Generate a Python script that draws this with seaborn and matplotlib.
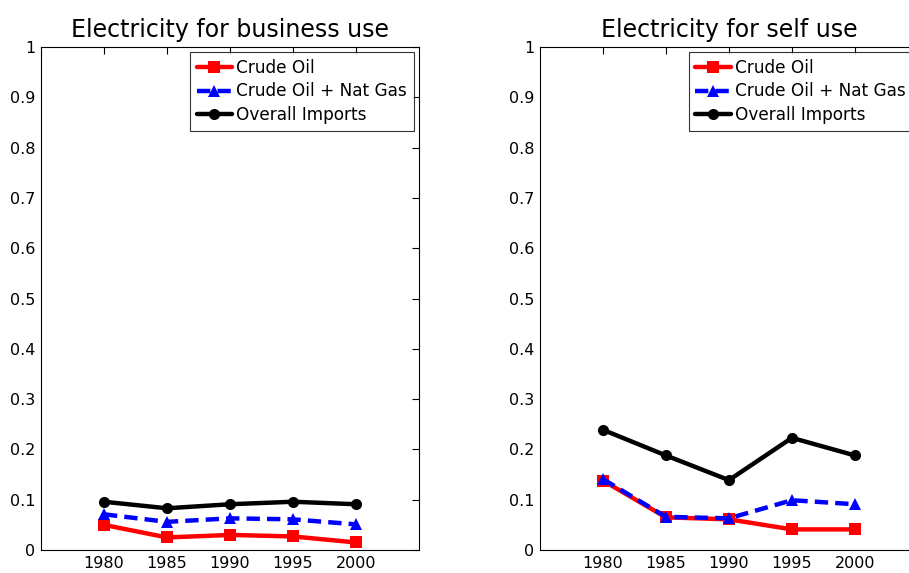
import pandas as pd
import matplotlib
matplotlib.use("Agg")
import matplotlib.pyplot as plt
import seaborn as sns

# values
years = [1980, 1985, 1990, 1995, 2000]
series_names = ['Crude Oil', 'Crude Oil + Nat Gas', 'Overall Imports']

business_crude = [0.050, 0.025, 0.030, 0.027, 0.015]
business_gas = [0.071, 0.056, 0.063, 0.061, 0.051]
business_overall = [0.096, 0.083, 0.091, 0.096, 0.091]

self_crude = [0.138, 0.065, 0.061, 0.041, 0.041]
self_gas = [0.141, 0.066, 0.063, 0.099, 0.091]
self_overall = [0.239, 0.188, 0.139, 0.223, 0.188]

panel_titles = ['Electricity for business use', 'Electricity for self use']


def make_frame(crude, gas, overall):
    rows = []
    for name, vals in zip(series_names, [crude, gas, overall]):
        for y, v in zip(years, vals):
            rows.append({'Year': y, 'Share': v, 'Series': name})
    return pd.DataFrame(rows)


frames = [make_frame(business_crude, business_gas, business_overall),
          make_frame(self_crude, self_gas, self_overall)]

sns.set_style('white')
plt.rcParams['font.family'] = ['DejaVu Sans']
plt.rcParams['text.color'] = 'black'

palette = {'Crude Oil': '#ff0000', 'Crude Oil + Nat Gas': '#0000ff', 'Overall Imports': '#000000'}
markers = {'Crude Oil': 's', 'Crude Oil + Nat Gas': '^', 'Overall Imports': 'o'}
dashes = {'Crude Oil': '', 'Crude Oil + Nat Gas': (3, 1.6), 'Overall Imports': ''}

fig = plt.figure(figsize=(9.09, 5.73), dpi=100)
ax_pos = [[0.0451, 0.0401, 0.4158, 0.8778], [0.594, 0.0401, 0.4158, 0.8778]]

for pos, df, title in zip(ax_pos, frames, panel_titles):
    ax = fig.add_axes(pos)
    sns.lineplot(data=df, x='Year', y='Share', hue='Series', style='Series',
                 hue_order=series_names, style_order=series_names,
                 palette=palette, markers=markers, dashes=dashes,
                 linewidth=3.2, markersize=8, markeredgewidth=0, ax=ax)
    ax.set_xlim(1975, 2005)
    ax.set_ylim(0, 1)
    ax.set_xticks(years)
    ax.set_xticklabels([str(y) for y in years])
    ax.set_yticks([i / 10 for i in range(11)])
    ax.set_yticklabels(['0'] + ['0.%d' % i for i in range(1, 10)] + ['1'])
    ax.set_xlabel('')
    ax.set_ylabel('')
    ax.set_title(title, fontsize=17, pad=7, color='black')
    ax.tick_params(direction='in', length=5, width=0.8, top=True, right=True,
                   labelsize=11.5, colors='black', pad=4)
    for s in ax.spines.values():
        s.set_color('black')
        s.set_linewidth(0.8)
    leg = ax.legend(loc='upper right', fontsize=12.2, frameon=True, fancybox=False,
                    borderaxespad=0.3, handlelength=2.1, handletextpad=0.25,
                    labelspacing=0.33, borderpad=0.4)
    leg.get_frame().set_edgecolor('black')
    leg.get_frame().set_linewidth(0.8)
    for t in leg.get_texts():
        t.set_color('black')

fig.savefig('out.png', dpi=100)
